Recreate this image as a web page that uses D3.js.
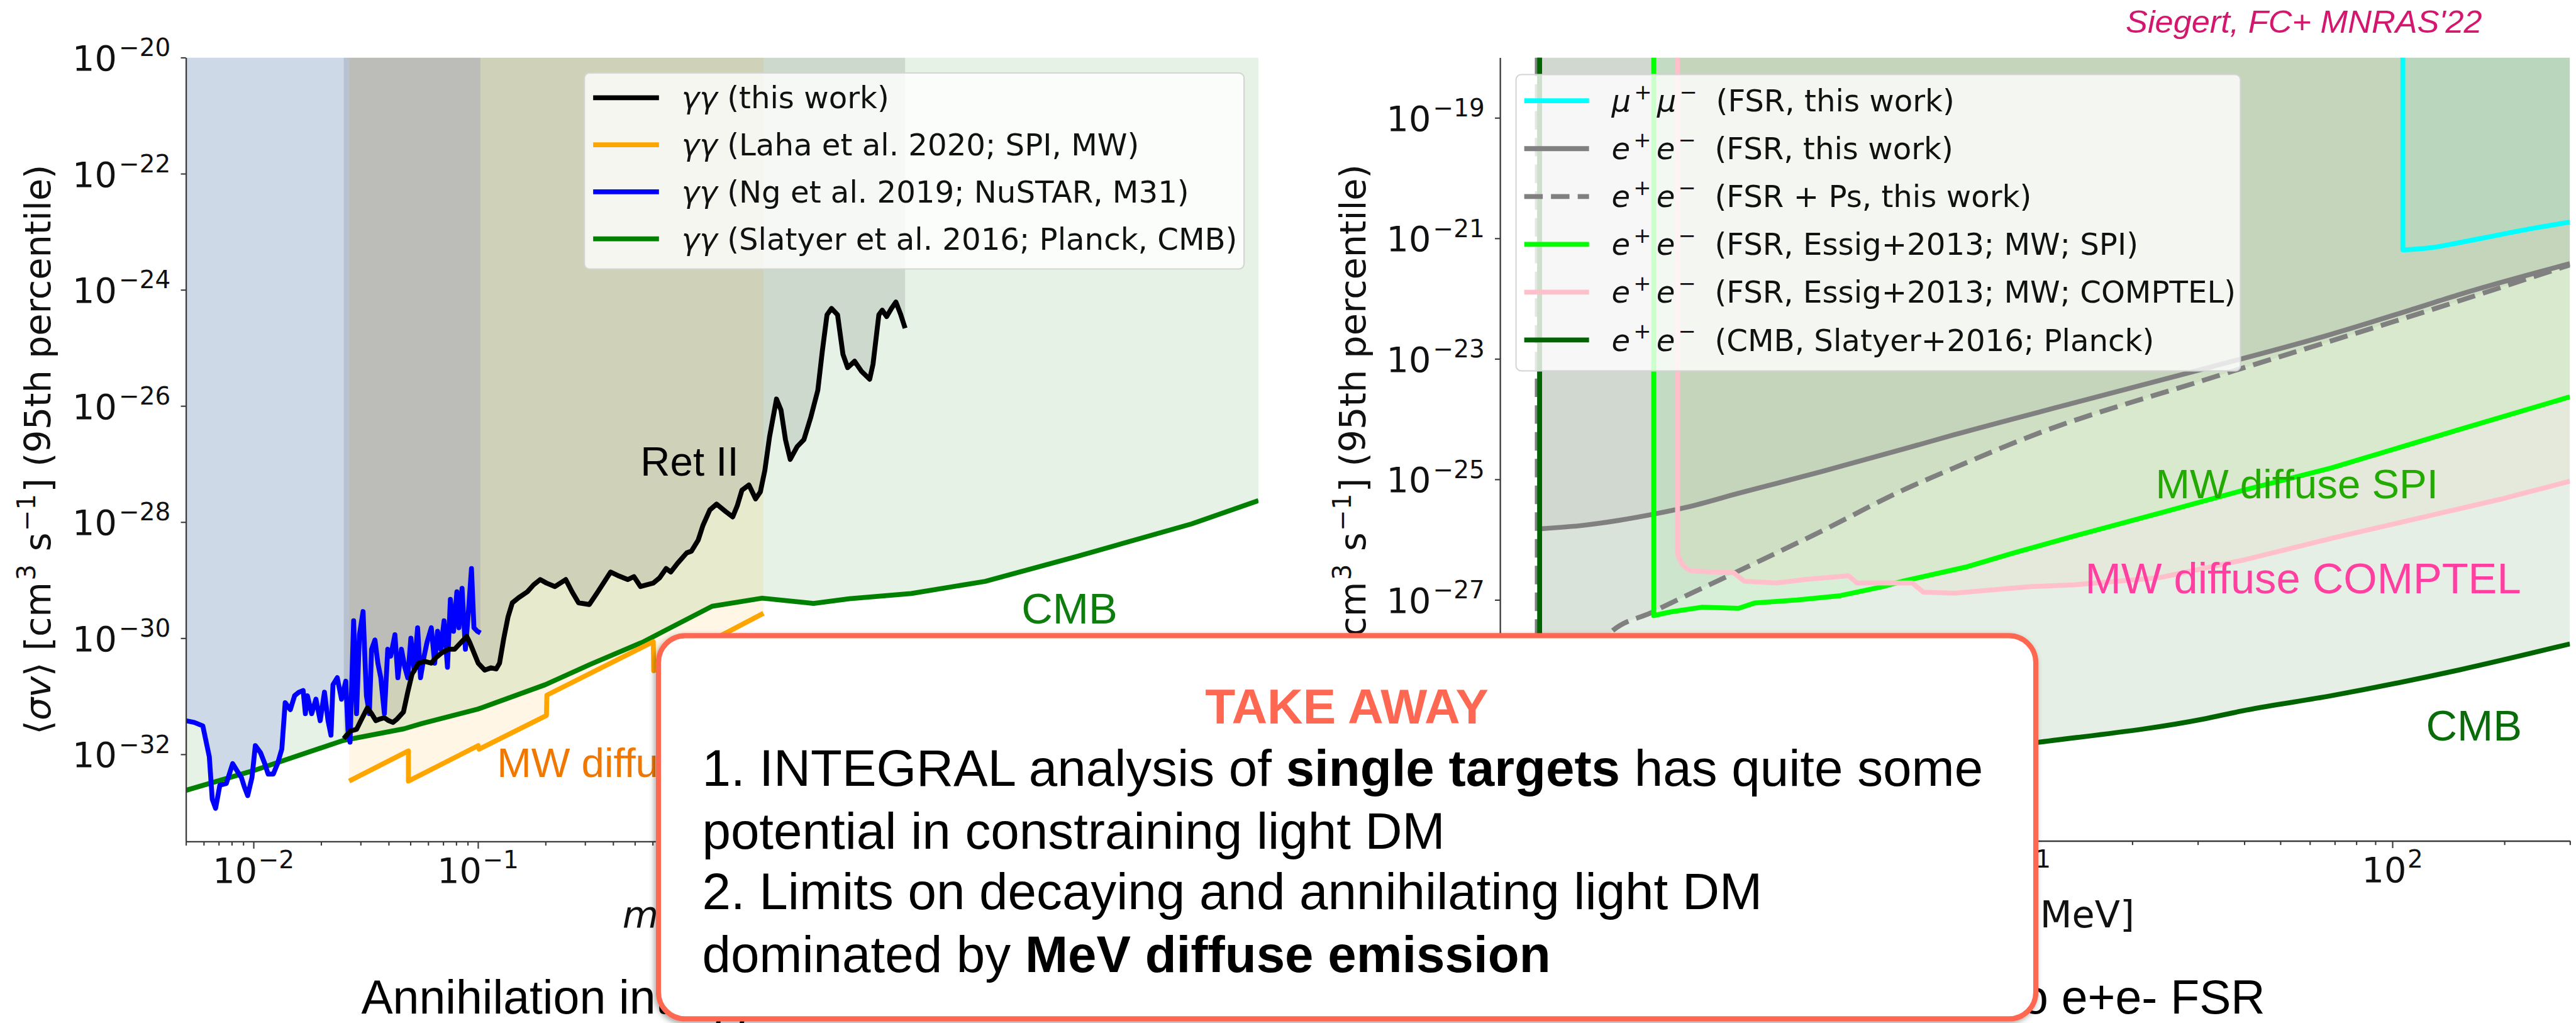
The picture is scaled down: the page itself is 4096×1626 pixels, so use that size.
<!DOCTYPE html>
<html>
<head>
<meta charset="utf-8">
<script src="https://cdn.jsdelivr.net/npm/d3@7"></script>
<style>
  html, body { margin: 0; padding: 0; background: #fff; overflow: hidden; }
  svg { display: block; }
</style>
</head>
<body>
<svg id="fig" width="4096" height="1626" viewBox="0 0 5009 1989"></svg>
<script>
// ---------------------------------------------------------------------------
// Data. Every pair is [log10(m_chi / MeV), log10(<sigma v> / cm^3 s^-1)].
// ---------------------------------------------------------------------------

// Left panel: annihilation into two photons
const gammaThisWork = [
  [-1.598,-31.73],[-1.570,-31.60],[-1.541,-31.57],[-1.522,-31.42],[-1.493,-31.20],[-1.474,-31.30],
  [-1.455,-31.42],[-1.436,-31.39],[-1.417,-31.37],[-1.398,-31.42],[-1.379,-31.45],[-1.360,-31.39],
  [-1.332,-31.27],[-1.313,-30.93],[-1.294,-30.62],[-1.265,-30.43],[-1.237,-30.40],[-1.208,-30.43],
  [-1.189,-30.34],[-1.161,-30.25],[-1.132,-30.19],[-1.104,-30.19],[-1.075,-30.07],[-1.050,-29.97],
  [-1.037,-30.07],[-1.018,-30.25],[-0.999,-30.43],[-0.970,-30.55],[-0.942,-30.51],[-0.919,-30.53],
  [-0.904,-30.43],[-0.885,-30.00],[-0.866,-29.63],[-0.847,-29.39],[-0.818,-29.30],[-0.780,-29.20],
  [-0.752,-29.08],[-0.723,-28.99],[-0.695,-29.05],[-0.657,-29.11],[-0.609,-28.99],[-0.581,-29.20],
  [-0.552,-29.39],[-0.504,-29.42],[-0.466,-29.20],[-0.409,-28.86],[-0.371,-28.93],[-0.333,-28.99],
  [-0.305,-28.94],[-0.276,-29.11],[-0.248,-29.08],[-0.219,-29.05],[-0.191,-28.96],[-0.162,-28.80],
  [-0.141,-28.86],[-0.111,-28.71],[-0.070,-28.53],[-0.049,-28.50],[-0.019,-28.31],[0.002,-28.06],
  [0.033,-27.79],[0.063,-27.69],[0.104,-27.82],[0.135,-27.91],[0.155,-27.72],[0.176,-27.45],
  [0.207,-27.36],[0.237,-27.60],[0.258,-27.48],[0.278,-27.11],[0.299,-26.53],[0.330,-25.88],
  [0.350,-26.07],[0.370,-26.58],[0.391,-26.92],[0.422,-26.70],[0.452,-26.58],[0.483,-26.19],
  [0.514,-25.73],[0.534,-25.06],[0.555,-24.43],[0.575,-24.32],[0.602,-24.43],[0.626,-25.11],
  [0.647,-25.34],[0.678,-25.23],[0.708,-25.40],[0.745,-25.54],[0.760,-25.28],[0.786,-24.43],
  [0.801,-24.35],[0.821,-24.46],[0.842,-24.32],[0.862,-24.21],[0.882,-24.41],[0.903,-24.66]
];

const gammaLaha2020 = [
  [-1.574,-32.46],[-1.310,-31.94],[-1.310,-32.46],[-0.999,-31.85],[-0.995,-31.91],
  [-0.695,-31.33],[-0.693,-30.98],[-0.219,-30.06],[-0.217,-30.56],[0.272,-29.57]
];

const gammaNg2019 = [
  [-2.302,-31.42],[-2.264,-31.45],[-2.226,-31.51],[-2.197,-32.04],[-2.184,-32.77],[-2.169,-32.93],
  [-2.150,-32.53],[-2.121,-32.50],[-2.093,-32.16],[-2.074,-32.28],[-2.054,-32.40],[-2.041,-32.56],
  [-2.026,-32.71],[-2.007,-32.40],[-1.992,-31.85],[-1.969,-31.97],[-1.950,-32.16],[-1.935,-32.34],
  [-1.912,-32.34],[-1.893,-32.16],[-1.874,-31.91],[-1.859,-31.11],[-1.836,-31.23],[-1.817,-30.99],
  [-1.798,-30.93],[-1.779,-30.90],[-1.769,-31.30],[-1.760,-30.99],[-1.741,-31.30],[-1.722,-31.05],
  [-1.703,-31.42],[-1.684,-30.93],[-1.668,-31.42],[-1.655,-31.67],[-1.646,-30.80],[-1.627,-30.68],
  [-1.608,-31.05],[-1.589,-30.74],[-1.579,-31.60],[-1.570,-31.79],[-1.554,-29.70],[-1.541,-31.30],
  [-1.528,-29.94],[-1.512,-29.54],[-1.497,-30.99],[-1.484,-31.30],[-1.474,-30.19],[-1.459,-30.03],
  [-1.446,-30.43],[-1.433,-30.68],[-1.417,-31.30],[-1.402,-30.19],[-1.389,-30.31],[-1.370,-29.94],
  [-1.357,-30.68],[-1.341,-30.19],[-1.326,-30.50],[-1.313,-30.68],[-1.299,-30.00],[-1.284,-30.56],
  [-1.269,-29.82],[-1.256,-30.68],[-1.240,-30.31],[-1.227,-30.07],[-1.208,-29.82],[-1.193,-30.43],
  [-1.180,-29.88],[-1.166,-30.19],[-1.151,-29.70],[-1.136,-30.50],[-1.123,-29.33],[-1.109,-29.88],
  [-1.094,-29.20],[-1.085,-29.82],[-1.071,-29.14],[-1.056,-30.19],[-1.043,-29.57],[-1.029,-28.80],
  [-1.018,-29.82],[-1.003,-29.88],[-0.989,-29.91]
];

const gammaSlatyer2016 = [
  [-2.301,-32.62],[-2.000,-32.28],[-1.600,-31.76],[-1.330,-31.56],[-1.250,-31.47],[-1.000,-31.22],
  [-0.700,-30.80],[-0.500,-30.45],[-0.262,-30.06],[-0.173,-29.88],[0.043,-29.45],[0.266,-29.31],
  [0.495,-29.40],[0.655,-29.32],[0.930,-29.23],[1.260,-29.02],[1.670,-28.59],[2.180,-28.03],[2.477,-27.63]
];

// Right panel: final-state radiation from charged-lepton pairs
// (the first point of each curve sits at the top of the axis: the kinematic threshold)
const muMuFSR = [
  [2.028,-18.0],[2.028,-21.19],[2.060,-21.18],[2.109,-21.15],[2.180,-21.07],[2.247,-20.99],
  [2.363,-20.85],[2.477,-20.73]
];

const eeFSR = [
  [-0.2916,-18.0],[-0.2916,-25.82],[-0.171,-25.76],[-0.079,-25.68],[0.012,-25.58],[0.105,-25.46],
  [0.243,-25.23],[0.460,-24.88],[0.684,-24.50],[0.822,-24.26],[1.145,-23.73],[1.490,-23.17],
  [1.836,-22.59],[2.063,-22.16],[2.181,-21.93],[2.477,-21.42]
];

const eeFSRPs = [
  [-0.298,-18.0],[-0.298,-30.6],[-0.200,-28.50],[-0.106,-27.57],[0.012,-27.20],[0.243,-26.52],
  [0.459,-25.88],[0.684,-25.18],[0.822,-24.81],[1.029,-24.28],[1.490,-23.36],[1.836,-22.70],
  [2.066,-22.26],[2.477,-21.44]
];

const eeEssigSPI = [
  [0.015,-18.0],[0.015,-27.26],[0.060,-27.20],[0.146,-27.12],[0.243,-27.14],[0.287,-27.05],
  [0.400,-27.00],[0.516,-26.93],[0.630,-26.78],[0.684,-26.69],[0.857,-26.45],[0.983,-26.22],
  [1.145,-25.94],[1.375,-25.56],[1.606,-25.17],[1.836,-24.81],[2.181,-24.17],[2.477,-23.63]
];

const eeEssigCOMPTEL = [
  [0.079,-18.0],[0.079,-26.20],[0.081,-26.28],[0.091,-26.40],[0.105,-26.49],[0.119,-26.52],
  [0.230,-26.55],[0.258,-26.69],[0.345,-26.72],[0.425,-26.66],[0.539,-26.60],[0.561,-26.72],
  [0.710,-26.72],[0.739,-26.87],[0.822,-26.89],[0.914,-26.84],[1.029,-26.78],[1.145,-26.75],
  [1.375,-26.63],[1.606,-26.33],[1.836,-25.98],[2.066,-25.65],[2.297,-25.32],[2.477,-25.03]
];

const eeSlatyerCMB = [
  [-0.2916,-18.0],[-0.2916,-30.4],[0.000,-30.15],[0.500,-29.78],[1.041,-29.37],[1.490,-28.98],
  [1.606,-28.83],[1.836,-28.59],[2.181,-28.16],[2.477,-27.73]
];

// Axis ranges and ticks (log10 units)
const leftMassRange = [Math.log10(0.005), Math.log10(300)];
const leftSigmaRange = [-33.5, -20];
const rightMassRange = [Math.log10(0.4), Math.log10(300)];
const rightSigmaRange = [-31, -18];
const leftYTicks = [-20, -22, -24, -26, -28, -30, -32];
const leftXTicks = [-2, -1, 0, 1, 2];
const rightYTicks = [-19, -21, -23, -25, -27, -29, -31];
const rightXTicks = [0, 1, 2];

// Text content
const leftLegendLabels = [
  [{t:"γγ", it:1}, {t:" (this work)"}],
  [{t:"γγ", it:1}, {t:" (Laha et al. 2020; SPI, MW)"}],
  [{t:"γγ", it:1}, {t:" (Ng et al. 2019; NuSTAR, M31)"}],
  [{t:"γγ", it:1}, {t:" (Slatyer et al. 2016; Planck, CMB)"}]
];
const ee = [{t:"e", it:1}, {t:"+", sup:1, dx:6}, {t:"e", it:1, dx:10}, {t:"−", sup:1, dx:6}];
const rightLegendLabels = [
  [{t:"μ", it:1}, {t:"+", sup:1, dx:6}, {t:"μ", it:1, dx:10}, {t:"−", sup:1, dx:6}, {t:" (FSR, this work)", dx:18}],
  [...ee, {t:" (FSR, this work)", dx:18}],
  [...ee, {t:" (FSR + Ps, this work)", dx:18}],
  [...ee, {t:" (FSR, Essig+2013; MW; SPI)", dx:18}],
  [...ee, {t:" (FSR, Essig+2013; MW; COMPTEL)", dx:18}],
  [...ee, {t:" (CMB, Slatyer+2016; Planck)", dx:18}]
];
const yLabelParts = [{t:"⟨"}, {t:"σv", it:1}, {t:"⟩ [cm"}, {t:"3", sup:1, dx:3}, {t:" s", dx:3}, {t:"−1", sup:1, dx:3}, {t:"] (95th percentile)", dx:3}];
const xLabelParts = [{t:"m", it:1}, {t:"χ", it:1, sub:1}, {t:" [MeV]"}];
const captionLeft = "Annihilation into γγ";
const captionRight = "Annihilation into e+e- FSR";
const citation = "Siegert, FC+ MNRAS'22";
const takeAwayTitle = "TAKE AWAY";
const takeAwayLines = [
  [{t:"1. INTEGRAL analysis of "}, {t:"single targets", b:1}, {t:" has quite some"}],
  [{t:"potential in constraining light DM"}],
  [{t:"2. Limits on decaying and annihilating light DM"}],
  [{t:"dominated by "}, {t:"MeV diffuse emission", b:1}]
];

// ---------------------------------------------------------------------------
// Drawing
// ---------------------------------------------------------------------------
const MPL = "'DejaVu Sans', 'Noto Sans', sans-serif";
const HEL = "'Liberation Sans', Arial, Helvetica, sans-serif";
const svg = d3.select("#fig");
svg.append("rect").attr("width", 5009).attr("height", 1989).attr("fill", "#fff");

const defs = svg.append("defs");
const shadow = defs.append("filter").attr("id", "boxShadow")
  .attr("x", "-5%").attr("y", "-5%").attr("width", "110%").attr("height", "115%");
shadow.append("feDropShadow").attr("dx", -3).attr("dy", 4).attr("stdDeviation", 5)
  .attr("flood-color", "#000").attr("flood-opacity", 0.35);

// Text with italic / bold runs and mathtext-like super- and subscripts
function richText(sel, parts, size) {
  let shift = 0;
  parts.forEach(p => {
    const ts = sel.append("tspan").text(p.t);
    if (p.it) ts.attr("font-style", "italic");
    if (p.b) ts.attr("font-weight", "bold");
    if (p.dx) ts.attr("dx", p.dx);
    const target = p.sup ? -0.41 * size : (p.sub ? 0.22 * size : 0);
    if (target !== shift) { ts.attr("dy", target - shift); shift = target; }
    if (p.sup || p.sub) ts.attr("font-size", 0.7 * size);
  });
}

function makePanel(px, py, massRange, sigmaRange, id) {
  const x = d3.scaleLog().domain(massRange.map(v => 10 ** v)).range(px);
  const y = d3.scaleLog().domain(sigmaRange.map(v => 10 ** v)).range(py);
  defs.append("clipPath").attr("id", id)
    .append("rect").attr("x", px[0]).attr("y", py[1])
    .attr("width", px[1] - px[0]).attr("height", py[0] - py[1]);
  const g = svg.append("g");
  const plot = g.append("g").attr("clip-path", `url(#${id})`);
  return {x, y, g, plot};
}

// Path through a curve: straight segments for jagged limits, or a straight
// threshold drop followed by a smooth monotone curve for the FSR limits.
function curvePath(P, data, smooth) {
  const px = d => P.x(10 ** d[0]), py = d => P.y(10 ** d[1]);
  if (!smooth) return d3.line().x(px).y(py)(data);
  const head = `M${px(data[0])},${py(data[0])}`;
  const tail = d3.line().x(px).y(py).curve(d3.curveMonotoneX)(data.slice(1));
  return head + tail.replace(/^M/, "L");
}

function fillAbove(P, data, color, alpha, smooth) {
  const top = P.y.range()[1];
  const first = P.x(10 ** data[0][0]), last = P.x(10 ** data[data.length - 1][0]);
  const d = curvePath(P, data, smooth) + `L${last},${top}L${first},${top}Z`;
  P.plot.append("path").attr("d", d)
    .attr("fill", color).attr("fill-opacity", alpha).attr("stroke", "none");
}

function drawLine(P, data, color, smooth, dash) {
  const p = P.plot.append("path").attr("d", curvePath(P, data, smooth))
    .attr("fill", "none").attr("stroke", color).attr("stroke-width", 9.5)
    .attr("stroke-linejoin", "round").attr("stroke-linecap", "butt");
  if (dash) p.attr("stroke-dasharray", dash);
}

function drawAxes(P, yTicks, xTicks) {
  const [x0] = P.x.range();
  const [y0] = P.y.range();
  const spine = (s) => s.selectAll(".domain").attr("stroke", "#3a3a3a").attr("stroke-width", 2.8);
  const tickStyle = (s) => s.selectAll(".tick line").attr("stroke", "#3a3a3a").attr("stroke-width", 2.6);

  const ya = P.g.append("g").attr("transform", `translate(${x0},0)`)
    .call(d3.axisLeft(P.y).tickValues(yTicks.map(e => 10 ** e)).tickSize(10).tickSizeOuter(0).tickFormat(""));
  spine(ya); tickStyle(ya);
  yTicks.forEach(e => {
    const t = P.g.append("text").attr("x", x0 - 30).attr("y", P.y(10 ** e) + 25)
      .attr("text-anchor", "end").attr("font-family", MPL).attr("font-size", 68).attr("fill", "#111");
    richText(t, [{t:"10"}, {t:"−" + Math.abs(e), sup:1, dx:4}], 68);
  });

  const lo = Math.log10(P.x.domain()[0]), hi = Math.log10(P.x.domain()[1]);
  const minors = [];
  for (let k = Math.floor(lo); k <= Math.ceil(hi); k++) {
    for (let i = 2; i <= 9; i++) {
      const v = i * 10 ** k;
      if (Math.log10(v) >= lo - 1e-9 && Math.log10(v) <= hi + 1e-9) minors.push(v);
    }
  }
  const xmin = P.g.append("g").attr("transform", `translate(0,${y0})`)
    .call(d3.axisBottom(P.x).tickValues(minors).tickSize(8).tickSizeOuter(0).tickFormat(""));
  xmin.selectAll(".domain").remove(); tickStyle(xmin);
  const xa = P.g.append("g").attr("transform", `translate(0,${y0})`)
    .call(d3.axisBottom(P.x).tickValues(xTicks.map(e => 10 ** e)).tickSize(14).tickSizeOuter(0).tickFormat(""));
  spine(xa); tickStyle(xa);
  xTicks.forEach(e => {
    const t = P.g.append("text").attr("x", P.x(10 ** e)).attr("y", y0 + 80)
      .attr("text-anchor", "middle").attr("font-family", MPL).attr("font-size", 68).attr("fill", "#111");
    richText(t, [{t:"10"}, {t:(e < 0 ? "−" : "") + Math.abs(e), sup:1, dx:2}], 68);
  });
}

function drawLegend(box, rows, handleX, textX, rowY) {
  const g = svg.append("g");
  g.append("rect").attr("x", box[0]).attr("y", box[1]).attr("width", box[2] - box[0]).attr("height", box[3] - box[1])
    .attr("rx", 10).attr("fill", "#fff").attr("fill-opacity", 0.8)
    .attr("stroke", "#d4d4d4").attr("stroke-width", 2.5);
  rows.forEach((r, i) => {
    const yy = rowY[0] + i * rowY[1];
    const l = g.append("line").attr("x1", handleX[0]).attr("x2", handleX[1]).attr("y1", yy).attr("y2", yy)
      .attr("stroke", r.color).attr("stroke-width", 9.5);
    if (r.dash) l.attr("stroke-dasharray", r.dash);
    const t = g.append("text").attr("x", textX).attr("y", yy + 21)
      .attr("font-family", MPL).attr("font-size", 59).attr("fill", "#111");
    richText(t, r.label, 59);
  });
}

function axisLabels(P, yLabelX, xLabelAnchor, xLabelX) {
  const [y0, y1] = P.y.range();
  const t = P.g.append("text")
    .attr("transform", `translate(${yLabelX},${(y0 + y1) / 2}) rotate(-90)`)
    .attr("text-anchor", "middle").attr("font-family", MPL).attr("font-size", 70).attr("fill", "#111");
  richText(t, yLabelParts, 70);
  const u = P.g.append("text").attr("x", xLabelX).attr("y", 1803)
    .attr("text-anchor", xLabelAnchor).attr("font-family", MPL).attr("font-size", 72).attr("fill", "#111");
  richText(u, xLabelParts, 72);
}

// ----- Left panel: gamma gamma -----
const L = makePanel([361, 2447], [1636, 112], leftMassRange, leftSigmaRange, "clipL");
fillAbove(L, gammaSlatyer2016, "#008000", 0.1);
fillAbove(L, gammaNg2019, "#0000ff", 0.1);
fillAbove(L, gammaLaha2020, "#ffa500", 0.1);
fillAbove(L, gammaThisWork, "#000000", 0.1);
drawLine(L, gammaSlatyer2016, "#008000");
drawLine(L, gammaLaha2020, "#ffa500");
drawLine(L, gammaNg2019, "#0000ff");
drawLine(L, gammaThisWork, "#000000");
drawAxes(L, leftYTicks, leftXTicks);
axisLabels(L, 97, "start", 1210);

L.g.append("text").attr("x", 1245).attr("y", 925).attr("font-family", HEL).attr("font-size", 80)
  .attr("fill", "#000").text("Ret II");
L.g.append("text").attr("x", 1986).attr("y", 1212).attr("font-family", HEL).attr("font-size", 84)
  .attr("fill", "#0e7d0e").text("CMB");
L.g.append("text").attr("x", 966).attr("y", 1511).attr("font-family", HEL).attr("font-size", 80)
  .attr("fill", "#f07800").text("MW diffuse");

drawLegend([1136, 142, 2419, 523], [
  {color:"#000000", label:leftLegendLabels[0]},
  {color:"#ffa500", label:leftLegendLabels[1]},
  {color:"#0000ff", label:leftLegendLabels[2]},
  {color:"#008000", label:leftLegendLabels[3]}
], [1153, 1281], 1325, [190, 91.5]);

// ----- Right panel: lepton pairs -----
const R = makePanel([2917, 4998], [1635, 112], rightMassRange, rightSigmaRange, "clipR");
fillAbove(R, eeSlatyerCMB, "#006400", 0.1, true);
fillAbove(R, eeFSRPs, "#808080", 0.1, true);
fillAbove(R, eeFSR, "#808080", 0.1, true);
fillAbove(R, eeEssigSPI, "#00ff00", 0.06);
fillAbove(R, eeEssigCOMPTEL, "#e8a060", 0.08);
fillAbove(R, muMuFSR, "#00ffff", 0.05, true);
drawLine(R, eeFSR, "#808080", true);
drawLine(R, eeFSRPs, "#808080", true, "36,16");
drawLine(R, eeEssigSPI, "#00ff00");
drawLine(R, eeEssigCOMPTEL, "#ffc0cb");
drawLine(R, eeSlatyerCMB, "#006400", true);
drawLine(R, muMuFSR, "#00ffff", true);
drawAxes(R, rightYTicks, rightXTicks);
axisLabels(R, 2655, "end", 4151);

R.g.append("text").attr("x", 4192).attr("y", 969).attr("font-family", HEL).attr("font-size", 80)
  .attr("fill", "#22aa00").text("MW diffuse SPI");
R.g.append("text").attr("x", 4055).attr("y", 1153).attr("font-family", HEL).attr("font-size", 84)
  .attr("fill", "#ff40a0").text("MW diffuse COMPTEL");
R.g.append("text").attr("x", 4718).attr("y", 1440).attr("font-family", HEL).attr("font-size", 84)
  .attr("fill", "#0a6b0a").text("CMB");

drawLegend([2948, 145, 4357, 721], [
  {color:"#00ffff", label:rightLegendLabels[0]},
  {color:"#808080", label:rightLegendLabels[1]},
  {color:"#808080", label:rightLegendLabels[2], dash:"36,16"},
  {color:"#00ff00", label:rightLegendLabels[3]},
  {color:"#ffc0cb", label:rightLegendLabels[4]},
  {color:"#006400", label:rightLegendLabels[5]}
], [2964, 3090], 3134, [196, 93]);

// ----- Captions and citation -----
svg.append("text").attr("x", 702).attr("y", 1971).attr("font-family", HEL).attr("font-size", 92)
  .attr("fill", "#000").text(captionLeft);
svg.append("text").attr("x", 4405).attr("y", 1971).attr("text-anchor", "end").attr("font-family", HEL)
  .attr("font-size", 92).attr("fill", "#000").text(captionRight);
svg.append("text").attr("x", 4134).attr("y", 64).attr("font-family", HEL).attr("font-size", 62)
  .attr("font-style", "italic").attr("fill", "#d4176e")
  .attr("textLength", 693).attr("lengthAdjust", "spacingAndGlyphs").text(citation);

// ----- Take-away box -----
const box = svg.append("g");
box.append("rect").attr("x", 1280).attr("y", 1236).attr("width", 2679).attr("height", 745)
  .attr("rx", 52).attr("fill", "#fff").attr("stroke", "#fe6751").attr("stroke-width", 10)
  .attr("filter", "url(#boxShadow)");
box.append("text").attr("x", 2619).attr("y", 1407).attr("text-anchor", "middle")
  .attr("font-family", HEL).attr("font-weight", "bold").attr("font-size", 96)
  .attr("fill", "#fe6751").text(takeAwayTitle);
const lineBaselines = [1528, 1650, 1768, 1890];
takeAwayLines.forEach((parts, i) => {
  const t = box.append("text").attr("x", 1365).attr("y", lineBaselines[i])
    .attr("font-family", HEL).attr("font-size", 100).attr("fill", "#000");
  richText(t, parts, 100);
});
</script>
</body>
</html>
